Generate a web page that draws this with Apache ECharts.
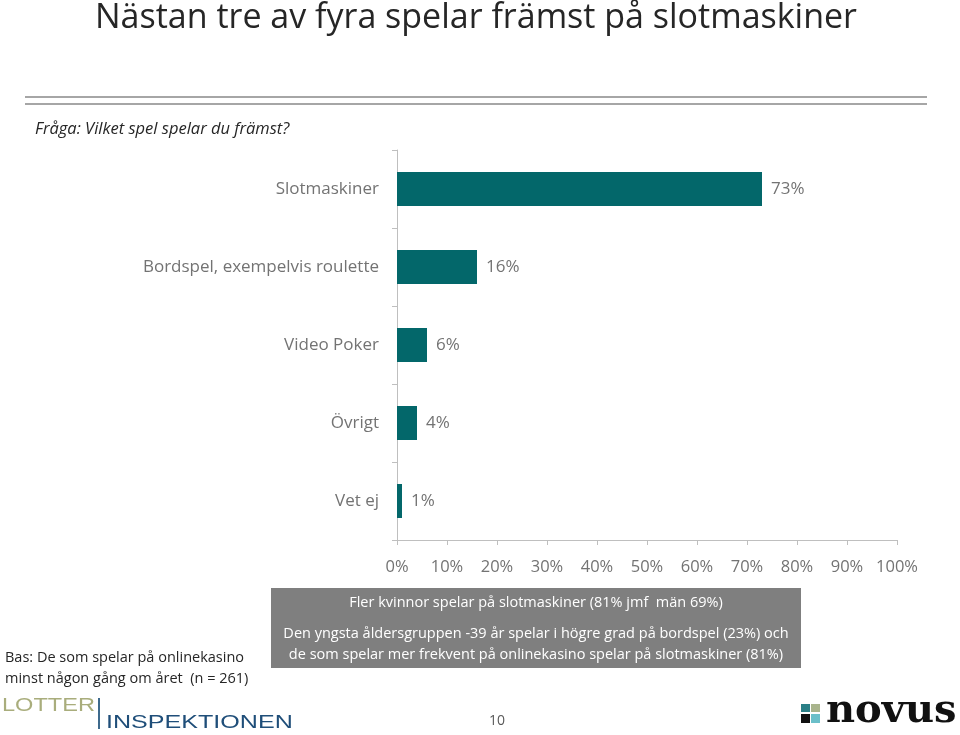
<!DOCTYPE html>
<html><head><meta charset="utf-8">
<script src="https://cdn.jsdelivr.net/npm/echarts@6/dist/echarts.min.js"></script>
<style>html,body{margin:0;padding:0;background:#fff}#c{width:960px;height:735px}</style>
</head><body><div id="c"></div>
<script>
const categories = ['Slotmaskiner', 'Bordspel, exempelvis roulette', 'Video Poker', 'Övrigt', 'Vet ej'];
const values = [73, 16, 6, 4, 1];
const tickLabels = ['0%','10%','20%','30%','40%','50%','60%','70%','80%','90%','100%'];
const titleText = 'Nästan tre av fyra spelar främst på slotmaskiner';
const questionText = 'Fråga: Vilket spel spelar du främst?';
const boxLine1 = 'Fler kvinnor spelar på slotmaskiner (81% jmf  män 69%)';
const boxLine2 = 'Den yngsta åldersgruppen -39 år spelar i högre grad på bordspel (23%) och';
const boxLine3 = 'de som spelar mer frekvent på onlinekasino spelar på slotmaskiner (81%)';
const baseLine1 = 'Bas: De som spelar på onlinekasino';
const baseLine2 = 'minst någon gång om året  (n = 261)';
const pageNo = '10';

const F = '"Open Sans", sans-serif';
const L = '"Liberation Sans", Arial, sans-serif';
const chart = echarts.init(document.getElementById('c'), null, {renderer: 'canvas'});
chart.setOption({
  backgroundColor: '#ffffff',
  animation: false,
  grid: {left: 397, right: 63, top: 150, height: 390, containLabel: false},
  xAxis: {
    type: 'value', min: 0, max: 100, interval: 10,
    axisLine: {show: true, lineStyle: {color: '#bfbfbf', width: 1}},
    axisTick: {show: true, length: 5, lineStyle: {color: '#bfbfbf'}},
    splitLine: {show: false},
    axisLabel: {formatter: v => tickLabels[v / 10], color: '#737373', fontFamily: F, fontSize: 16.5, margin: 19}
  },
  yAxis: {
    type: 'category', data: categories, inverse: true,
    axisLine: {show: true, lineStyle: {color: '#bfbfbf', width: 1}},
    axisTick: {show: true, length: 5, lineStyle: {color: '#bfbfbf'}},
    axisLabel: {color: '#737373', fontFamily: F, fontSize: 17, margin: 18}
  },
  series: [{
    type: 'bar', data: values, barWidth: 34,
    itemStyle: {color: '#03676a'},
    label: {show: true, position: 'right', distance: 9, formatter: p => p.value + '%',
            color: '#737373', fontFamily: F, fontSize: 17}
  }],
  graphic: [
    {type: 'text', x: 476, y: 18, style: {text: titleText, fontFamily: F, fontSize: 34, fill: '#262626', align: 'center', verticalAlign: 'middle'}},
    {type: 'rect', shape: {x: 25, y: 96, width: 902, height: 2}, style: {fill: '#a6a6a6'}},
    {type: 'rect', shape: {x: 25, y: 103, width: 902, height: 2}, style: {fill: '#a6a6a6'}},
    {type: 'text', x: 35, y: 129, style: {text: questionText, fontFamily: F, fontSize: 16.5, fontStyle: 'italic', fill: '#262626', verticalAlign: 'middle'}},
    {type: 'rect', shape: {x: 271, y: 588, width: 530, height: 80}, style: {fill: '#7f7f7f'}},
    {type: 'text', x: 536, y: 603, style: {text: boxLine1, fontFamily: F, fontSize: 14.5, fill: '#ffffff', align: 'center', verticalAlign: 'middle'}},
    {type: 'text', x: 536, y: 634, style: {text: boxLine2, fontFamily: F, fontSize: 14.5, fill: '#ffffff', align: 'center', verticalAlign: 'middle'}},
    {type: 'text', x: 536, y: 655, style: {text: boxLine3, fontFamily: F, fontSize: 14.5, fill: '#ffffff', align: 'center', verticalAlign: 'middle'}},
    {type: 'text', x: 5, y: 658, style: {text: baseLine1, fontFamily: F, fontSize: 14.5, fill: '#262626', verticalAlign: 'middle'}},
    {type: 'text', x: 5, y: 679, style: {text: baseLine2, fontFamily: F, fontSize: 14.5, fill: '#262626', verticalAlign: 'middle'}},
    {type: 'text', x: 497, y: 721, style: {text: pageNo, fontFamily: F, fontSize: 14, fill: '#595959', align: 'center', verticalAlign: 'middle'}},
    {type: 'text', x: 2, y: 706, scaleX: 1.24, style: {text: 'LOTTER', fontFamily: L, fontSize: 19, fill: '#a9ad7c', verticalAlign: 'middle'}},
    {type: 'rect', shape: {x: 98, y: 698, width: 2, height: 31}, style: {fill: '#3e6a8c'}},
    {type: 'text', x: 106, y: 723, scaleX: 1.32, style: {text: 'INSPEKTIONEN', fontFamily: L, fontSize: 19, fill: '#1f4e79', verticalAlign: 'middle'}},
    {type: 'rect', shape: {x: 801, y: 704, width: 9, height: 8}, style: {fill: '#2a7f86'}},
    {type: 'rect', shape: {x: 811, y: 704, width: 9, height: 8}, style: {fill: '#a9b48c'}},
    {type: 'rect', shape: {x: 801, y: 714, width: 9, height: 9}, style: {fill: '#111111'}},
    {type: 'rect', shape: {x: 811, y: 714, width: 9, height: 9}, style: {fill: '#6bbfc9'}},
    {type: 'text', x: 826, y: 712, style: {text: 'novus', fontFamily: '"DejaVu Serif", serif', fontWeight: 'bold', fontSize: 40, fill: '#111111', verticalAlign: 'middle'}}
  ]
});
</script></body></html>
